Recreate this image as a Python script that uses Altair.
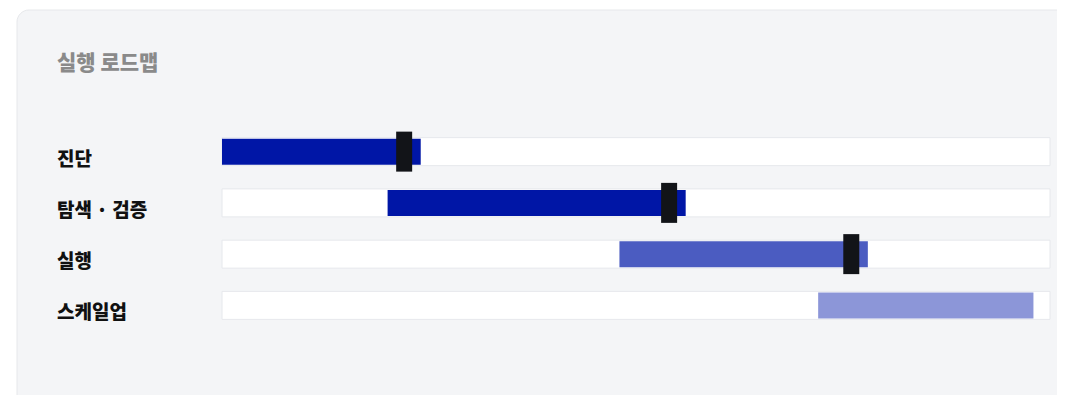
import altair as alt
import pandas as pd

# ---- data ----
phases = ["진단", "탐색 · 검증", "실행", "스케일업"]
starts = [0, 20, 48, 72]
ends = [24, 56, 78, 98]
milestones = [22, 54, 76, None]
colors = ["#0016A6", "#0016A6", "#4B5CC1", "#8C96D8"]
track_min = [0, 0, 0, 0]
track_max = [100, 100, 100, 100]
title_text = "실행 로드맵"

df = pd.DataFrame({
    "phase": phases, "start": starts, "end": ends,
    "milestone": milestones, "color": colors,
    "tmin": track_min, "tmax": track_max,
})
ms = df.dropna(subset=["milestone"])
one = pd.DataFrame({"k": [0]})

FONT = "Noto Sans CJK KR"
W, H = 828, 205

xs = alt.Scale(domain=[0, 100], nice=False, zero=False)
ys = alt.Scale(domain=phases, paddingInner=0, paddingOuter=0)

card = alt.Chart(one).mark_rect(
    cornerRadius=12, fill="#f4f5f7", stroke="#e6e8eb", strokeWidth=1
).encode(
    x=alt.value(-205), x2=alt.value(W + 60),
    y=alt.value(-116), y2=alt.value(H + 120),
)

title = alt.Chart(one).mark_text(
    text=title_text, font=FONT, fontSize=21, fontWeight=900,
    color="#8a8a8a", align="left", baseline="middle"
).encode(x=alt.value(-165), y=alt.value(-62))

track = alt.Chart(df).mark_bar(
    height=28, fill="white", stroke="#e6e8ec", strokeWidth=1
).encode(
    x=alt.X("tmin:Q", scale=xs, axis=None),
    x2="tmax:Q",
    y=alt.Y("phase:N", scale=ys, axis=None, sort=phases),
)

bars = alt.Chart(df).mark_bar(height=26).encode(
    x=alt.X("start:Q", scale=xs, axis=None),
    x2="end:Q",
    y=alt.Y("phase:N", scale=ys, axis=None, sort=phases),
    color=alt.Color("color:N", scale=None, legend=None),
)

markers = alt.Chart(ms).mark_tick(
    thickness=16, size=40, color="#121418", opacity=1
).encode(
    x=alt.X("milestone:Q", scale=xs, axis=None),
    y=alt.Y("phase:N", scale=ys, axis=None, sort=phases),
)

labels = alt.Chart(df).mark_text(
    font=FONT, fontSize=19, fontWeight=900, color="#111111",
    align="left", baseline="middle", dy=8
).encode(
    x=alt.value(-165),
    y=alt.Y("phase:N", scale=ys, axis=None, sort=phases),
    text="phase:N",
)

chart = alt.layer(card, title, track, bars, markers, labels).properties(
    width=W, height=H,
    autosize=alt.AutoSizeParams(type="none"),
    padding={"left": 214, "top": 118, "right": 7, "bottom": 64},
    background="white",
).configure_view(stroke=None)

chart.save("out.html", embed_options={"renderer": "svg", "actions": False})
